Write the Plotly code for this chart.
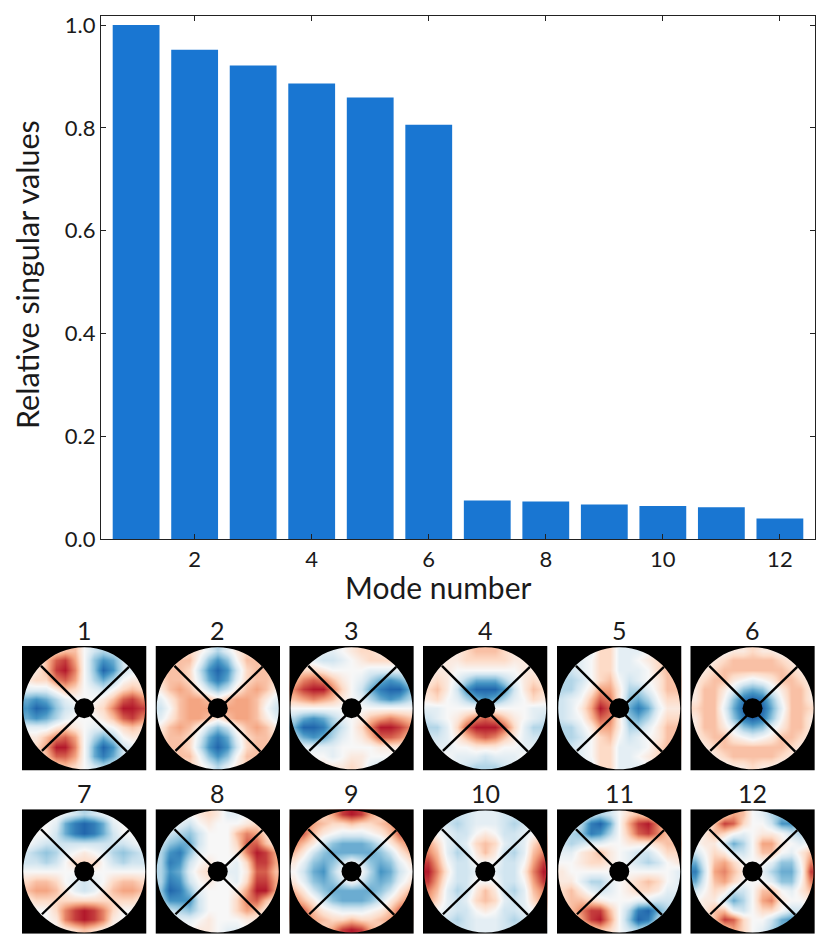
import plotly.graph_objects as go

W, H = 830, 946
FONT = "Lato"

mode_numbers = list(range(1, 13))
singular_values = [1.0, 0.952, 0.921, 0.886, 0.859, 0.806, 0.075, 0.073, 0.067, 0.064, 0.062, 0.04]
x_ticks = [2, 4, 6, 8, 10, 12]
y_ticks = [0.0, 0.2, 0.4, 0.6, 0.8, 1.0]
y_tick_labels = ["0.0", "0.2", "0.4", "0.6", "0.8", "1.0"]

mode_1 = [[0, 0, 1, 2, 3, 3, 0, -2, -3, -2, -1, 0, 0],
          [0, 0, 3, 6, 7, 4, 0, -4, -6, -5, -2, 0, 0],
          [0, 1, 3, 7, 8, 5, 0, -4, -8, -6, -2, -1, 0],
          [1, 2, 2, 5, 6, 4, 0, -3, -5, -3, 0, 1, 1],
          [-1, -1, -1, 1, 3, 2, 0, -1, -2, 0, 2, 3, 2],
          [-5, -6, -5, -3, -1, 0, 0, 0, 1, 3, 6, 7, 5],
          [-6, -8, -7, -4, -2, -1, 0, 1, 2, 5, 8, 8, 7],
          [-5, -6, -5, -3, -1, 0, 0, 0, 1, 3, 6, 7, 5],
          [-1, -1, -1, 1, 2, 1, 0, -1, -1, 0, 2, 3, 2],
          [1, 1, 3, 5, 6, 4, 0, -3, -5, -3, 0, 1, 1],
          [0, 2, 4, 8, 8, 5, 0, -5, -8, -6, -2, -1, 0],
          [0, 0, 3, 6, 6, 4, 0, -5, -7, -5, -2, 0, 0],
          [0, 0, 1, 2, 3, 2, 0, -2, -3, -2, -1, 0, 0]]
mode_2 = [[0, 0, 0, 2, 1, -1, -3, -1, 1, 2, 0, 0, 0],
          [0, 1, 3, 3, 0, -4, -6, -4, 0, 3, 3, 1, 0],
          [2, 3, 3, 2, -2, -6, -8, -6, -2, 2, 3, 3, 2],
          [2, 3, 3, 2, -1, -5, -7, -5, -1, 2, 3, 3, 2],
          [1, 3, 4, 3, 1, -2, -4, -2, 1, 3, 4, 3, 1],
          [-1, 1, 3, 4, 4, 3, 1, 3, 4, 4, 3, 1, -1],
          [-2, 0, 3, 4, 4, 4, 3, 4, 4, 4, 3, 0, -2],
          [-1, 1, 3, 4, 4, 3, 1, 3, 4, 4, 3, 1, -1],
          [1, 3, 4, 3, 1, -2, -4, -2, 1, 3, 4, 3, 1],
          [2, 3, 3, 2, -1, -5, -7, -5, -1, 2, 3, 3, 2],
          [2, 3, 3, 2, -2, -6, -8, -6, -2, 2, 3, 3, 2],
          [0, 1, 3, 3, 0, -4, -6, -4, 0, 3, 3, 1, 0],
          [0, 0, 0, 2, 1, -1, -3, -1, 1, 2, 0, 0, 0]]
mode_3 = [[0, 0, 0, -1, -1, 0, 1, 2, 2, 1, 0, 0, 0],
          [0, 0, -1, -2, -2, -1, 0, 1, 2, 2, 2, 1, 0],
          [2, 2, 2, 1, 0, 0, 0, 0, -1, -1, -1, -1, 0],
          [3, 5, 6, 5, 3, 1, 0, -1, -3, -5, -6, -5, -3],
          [5, 7, 8, 8, 5, 2, 0, -2, -5, -7, -8, -8, -5],
          [3, 4, 5, 4, 3, 1, 0, -1, -3, -5, -6, -5, -3],
          [0, 0, 0, 0, 0, 0, 0, 0, 0, 0, 0, 0, 0],
          [-3, -5, -6, -5, -3, -1, 0, 1, 3, 4, 5, 4, 3],
          [-5, -8, -8, -7, -4, -2, 0, 2, 5, 8, 8, 7, 5],
          [-3, -5, -6, -5, -3, -1, 0, 1, 3, 6, 6, 5, 3],
          [0, -1, -1, -1, -1, 0, 0, 0, 0, 1, 1, 1, 0],
          [0, 0, 0, 0, -1, 0, 1, 1, 0, 0, 0, 0, 0],
          [0, 0, 0, 1, 1, 1, 2, 1, -1, -2, -1, 0, 0]]
mode_4 = [[0, 0, 0, 1, 2, 3, 3, 3, 2, 1, 0, 0, 0],
          [0, 0, 1, 1, 2, 2, 2, 2, 2, 1, 1, 0, 0],
          [0, 1, 1, 0, 0, 0, 0, 0, 0, 0, 1, 1, 0],
          [1, 2, 1, -1, -3, -5, -5, -5, -3, -1, 1, 2, 1],
          [2, 3, 1, -2, -6, -8, -8, -8, -6, -2, 1, 3, 2],
          [1, 2, 0, -1, -3, -5, -6, -5, -3, -1, 0, 2, 1],
          [-1, -1, 0, 0, 0, 0, 0, 0, 0, 0, 0, -1, -1],
          [-2, -1, 0, 1, 3, 5, 6, 5, 3, 1, 0, -1, -2],
          [-3, -3, -1, 2, 6, 8, 8, 8, 6, 2, -1, -3, -3],
          [-2, -2, -1, 1, 3, 5, 6, 5, 3, 1, -1, -2, -2],
          [-1, -1, -1, 0, 0, 1, 1, 1, 0, 0, -1, -1, -1],
          [0, 0, 0, -1, -1, -1, -2, -1, -1, -1, 0, 0, 0],
          [0, 0, 0, -1, -2, -3, -3, -3, -2, -1, 0, 0, 0]]
mode_5 = [[0, 0, 0, -1, 2, 2, -1, -1, -1, 0, 1, 0, 0],
          [-1, -1, -1, 0, 2, 2, -1, -1, 0, 1, 2, 2, 1],
          [-2, -2, -1, 0, 2, 2, -1, -1, -1, 0, 2, 3, 2],
          [-3, -3, -2, 0, 2, 3, 0, -2, -1, 0, 1, 3, 3],
          [-3, -3, -1, 1, 4, 4, 1, -3, -3, -1, 1, 3, 3],
          [-2, -1, 0, 3, 6, 5, 1, -4, -5, -3, 0, 2, 2],
          [-2, -1, 1, 4, 8, 6, 1, -5, -7, -5, -1, 1, 1],
          [-2, -1, 0, 3, 6, 5, 1, -4, -5, -3, 0, 2, 2],
          [-3, -3, -1, 1, 4, 4, 1, -3, -3, -1, 1, 3, 3],
          [-3, -3, -2, 0, 2, 3, 0, -2, -1, 0, 1, 3, 3],
          [-2, -2, -1, 0, 2, 2, -1, -1, -1, 0, 2, 3, 2],
          [-1, -1, -1, 0, 2, 2, -1, -1, 0, 1, 2, 2, 1],
          [0, 0, 0, -1, 2, 2, -1, -1, -1, 0, 1, 0, 0]]
mode_6 = [[0, 0, 0, 0, 1, 1, 2, 1, 1, 0, 0, 0, 0],
          [0, 0, 1, 2, 3, 3, 3, 3, 3, 2, 1, 0, 0],
          [0, 1, 2, 3, 3, 3, 3, 3, 3, 3, 2, 1, 0],
          [1, 2, 3, 3, 1, 0, -1, 0, 1, 3, 3, 2, 1],
          [1, 3, 3, 1, -1, -4, -5, -4, -1, 1, 3, 3, 1],
          [1, 3, 3, 0, -4, -7, -8, -7, -4, 0, 3, 3, 1],
          [2, 3, 3, -1, -5, -8, -8, -8, -5, -1, 3, 3, 2],
          [1, 3, 3, 0, -4, -7, -8, -7, -4, 0, 3, 3, 1],
          [1, 3, 3, 1, -1, -4, -5, -4, -1, 1, 3, 3, 1],
          [1, 2, 3, 3, 1, 0, -1, 0, 1, 3, 3, 2, 1],
          [0, 1, 2, 3, 3, 3, 3, 3, 3, 3, 2, 1, 0],
          [0, 0, 1, 2, 3, 3, 3, 3, 3, 2, 1, 0, 0],
          [0, 0, 0, 0, 1, 1, 2, 1, 1, 0, 0, 0, 0]]
mode_7 = [[0, 0, 0, 0, -1, -2, -3, -2, -1, 0, 0, 0, 0],
          [0, 0, 0, -1, -5, -7, -8, -7, -5, -1, 0, 0, 0],
          [0, 0, 0, -2, -5, -7, -8, -7, -5, -2, 0, 0, 0],
          [0, -1, -2, -2, -2, -2, -2, -2, -2, -2, -2, -1, 0],
          [-2, -3, -4, -3, -1, 0, 1, 0, -1, -3, -4, -3, -2],
          [-2, -2, -3, -2, 0, 2, 2, 2, 0, -2, -3, -2, -2],
          [0, 0, 0, 0, 0, 0, 0, 0, 0, 0, 0, 0, 0],
          [2, 3, 3, 2, 0, -1, -2, -1, 0, 2, 3, 3, 2],
          [3, 4, 4, 3, 1, -1, -2, -1, 1, 3, 4, 4, 3],
          [1, 2, 2, 2, 2, 2, 2, 2, 2, 2, 2, 2, 1],
          [0, 0, 0, 2, 5, 7, 8, 7, 5, 2, 0, 0, 0],
          [0, 0, 0, 1, 5, 7, 8, 7, 5, 1, 0, 0, 0],
          [0, 0, 0, 0, 1, 2, 3, 2, 1, 0, 0, 0, 0]]
mode_8 = [[0, 0, 0, 0, 1, 2, 1, -1, -1, 0, 0, 0, 0],
          [0, 0, -1, -2, 0, 1, 0, 0, 0, 1, 2, 0, 0],
          [0, -2, -3, -4, -2, 0, 0, 0, 3, 5, 4, 2, 0],
          [-2, -4, -5, -5, -2, 0, 0, 0, 2, 6, 6, 3, 1],
          [-3, -6, -7, -4, -1, 0, 0, 0, 1, 5, 8, 7, 4],
          [-3, -7, -6, -2, 0, 1, 0, 0, -1, 2, 7, 7, 4],
          [-3, -6, -5, -1, 1, 2, 0, -1, -1, 1, 6, 6, 3],
          [-3, -7, -6, -2, 0, 1, 0, 0, -1, 2, 7, 7, 4],
          [-4, -8, -7, -4, -1, 0, 0, 0, 1, 4, 8, 8, 4],
          [-3, -6, -6, -6, -2, 0, 0, 0, 2, 5, 6, 3, 1],
          [0, -2, -3, -4, -2, 0, 0, 0, 2, 4, 3, 1, 0],
          [0, 0, -1, -1, 0, 1, 0, 0, 0, 1, 1, 0, 0],
          [0, 0, 0, 0, 1, 1, 0, -1, -1, 0, 0, 0, 0]]
mode_9 = [[1, 2, 2, 2, 4, 7, 8, 7, 4, 2, 2, 2, 1],
          [4, 5, 4, 3, 2, 2, 3, 2, 2, 3, 4, 5, 4],
          [6, 6, 3, 1, 0, -1, -1, -1, 0, 1, 3, 6, 6],
          [5, 3, 1, -2, -4, -5, -5, -5, -4, -2, 1, 3, 5],
          [3, 1, -2, -4, -5, -5, -5, -5, -5, -4, -2, 1, 3],
          [1, -1, -4, -5, -4, -2, 0, -2, -4, -5, -4, -1, 1],
          [0, -2, -5, -6, -3, 0, 1, 0, -3, -6, -5, -2, 0],
          [1, -1, -4, -5, -4, -2, 0, -2, -4, -5, -4, -1, 1],
          [3, 1, -2, -4, -5, -5, -5, -5, -5, -4, -2, 1, 3],
          [5, 3, 1, -2, -4, -5, -5, -5, -4, -2, 1, 3, 5],
          [6, 6, 3, 1, 0, -1, -1, -1, 0, 1, 3, 6, 6],
          [4, 5, 4, 3, 2, 2, 3, 2, 2, 3, 4, 5, 4],
          [1, 2, 2, 2, 4, 7, 8, 7, 4, 2, 2, 2, 1]]
mode_10 = [[-1, -1, -2, -2, -2, -1, -1, -1, -2, -2, -2, -1, -1],
           [0, -1, -2, -3, -2, -1, -1, -1, -2, -3, -2, -1, 0],
           [2, 0, -1, -2, -2, 0, 1, 0, -2, -2, -1, 0, 2],
           [4, 2, -1, -2, -1, 2, 3, 2, -1, -2, -1, 2, 4],
           [5, 3, -1, -3, -2, 1, 3, 1, -2, -3, -1, 3, 5],
           [7, 4, 0, -2, -2, 0, 0, 0, -2, -2, 0, 4, 7],
           [8, 5, 1, -2, -2, -1, 0, -1, -2, -2, 1, 5, 8],
           [7, 4, 0, -2, -2, 0, 0, 0, -2, -2, 0, 4, 7],
           [5, 3, -1, -3, -2, 1, 3, 1, -2, -3, -1, 3, 5],
           [4, 2, -1, -2, -1, 2, 3, 2, -1, -2, -1, 2, 4],
           [2, 0, -1, -2, -2, 0, 1, 0, -2, -2, -1, 0, 2],
           [0, -1, -2, -3, -2, -1, -1, -1, -2, -3, -2, -1, 0],
           [-1, -1, -2, -2, -2, -1, -1, -1, -2, -2, -2, -1, -1]]
mode_11 = [[0, 0, 0, -2, -3, -2, 0, 2, 3, 2, 0, 0, 0],
           [0, 0, -3, -7, -8, -5, 0, 4, 7, 8, 5, 1, 0],
           [-2, -3, -4, -7, -6, -3, 0, 3, 6, 7, 5, 3, 1],
           [-2, -3, -2, -1, -1, 0, 0, 1, 1, 1, 2, 3, 3],
           [-1, -1, 1, 2, 3, 1, 0, -1, -2, -2, 0, 2, 2],
           [0, 0, 1, 2, 2, 1, 0, -1, -2, -3, -2, 0, 1],
           [1, 0, 0, 0, 0, 0, 0, 0, 0, 0, 0, 0, -1],
           [1, 1, -1, -3, -3, -1, 0, 1, 2, 3, 2, 0, -1],
           [2, 3, 1, -1, -2, -1, 0, 1, 2, 2, 1, -1, -1],
           [2, 3, 3, 2, 1, 0, 0, 0, -1, -1, -2, -2, -2],
           [1, 3, 5, 7, 7, 3, 0, -3, -7, -8, -5, -3, -1],
           [0, 1, 4, 7, 8, 4, 0, -4, -8, -7, -3, 0, 0],
           [0, 0, 0, 2, 3, 2, 0, -2, -3, -2, 0, 0, 0]]
mode_12 = [[0, 0, 0, 2, 4, 3, 0, -1, -3, -4, -2, 0, 0],
           [0, 0, 3, 7, 6, 2, 0, 0, -2, -6, -6, -2, 0],
           [0, 1, 3, 2, 0, -1, 0, 1, 1, 0, -2, -3, -1],
           [0, 1, 1, -2, -5, -3, 0, 4, 4, 1, 0, -1, 0],
           [-2, 0, 2, 1, -2, -2, 0, 3, 3, 0, -1, 1, 3],
           [-5, -1, 3, 4, 2, 0, 0, 0, -1, -4, -4, 0, 5],
           [-7, -2, 4, 5, 3, 1, 0, -1, -3, -5, -5, -1, 7],
           [-5, -1, 3, 4, 2, 0, 0, 0, -1, -4, -4, 0, 5],
           [-2, 0, 2, 1, -2, -2, 0, 3, 3, 0, -1, 1, 3],
           [0, 1, 1, -2, -5, -3, 0, 4, 5, 1, 0, 0, 1],
           [0, 1, 3, 3, -1, -2, 0, 2, 2, 0, -2, -2, 0],
           [0, 0, 3, 7, 6, 2, 0, 0, -2, -5, -6, -2, 0],
           [0, 0, 0, 2, 4, 2, 0, -1, -3, -5, -3, 0, 0]]
modes = [mode_1, mode_2, mode_3, mode_4, mode_5, mode_6,
         mode_7, mode_8, mode_9, mode_10, mode_11, mode_12]

# pixel layout of the thumbnails
panel_left = [22, 155.5, 289.3, 423, 557, 690.3]
panel_top = [646, 809.3]
panel_size = 124.5

CELL = panel_size / 13
R_PUPIL = 61 / CELL
R_HOLE = 10 / CELL
C = 6
K = 0.5523 * R_PUPIL
# spider arm end points, pixels from the panel centre
arms = [(-43.3, -42.3, 42.7, 43.3), (44.7, -41.3, -42.3, 42.7)]


def mask_path():
    # black square with the circular pupil cut out
    r = R_PUPIL
    return (f"M-0.5,-0.5 L12.5,-0.5 L12.5,12.5 L-0.5,12.5 Z "
            f"M{C - r},{C} C{C - r},{C - K} {C - K},{C - r} {C},{C - r} "
            f"C{C + K},{C - r} {C + r},{C - K} {C + r},{C} "
            f"C{C + r},{C + K} {C + K},{C + r} {C},{C + r} "
            f"C{C - K},{C + r} {C - r},{C + K} {C - r},{C} Z")


fig = go.Figure()

# main bar chart
fig.add_trace(go.Bar(x=mode_numbers, y=singular_values, width=0.8,
                     marker=dict(color="#1976d2", line=dict(width=0)),
                     xaxis="x", yaxis="y", showlegend=False))

layout = dict(
    width=W, height=H,
    margin=dict(l=0, r=0, t=0, b=0, autoexpand=False),
    paper_bgcolor="white", plot_bgcolor="white",
    font=dict(family=FONT, color="#1a1a1a"),
    xaxis=dict(domain=[101 / W, 815 / W], range=[0.4, 12.6], tickvals=x_ticks,
               ticks="inside", ticklen=5, tickwidth=1, tickcolor="#222",
               showline=True, mirror="ticks", linecolor="#222", linewidth=1.3,
               showgrid=False, zeroline=False, tickfont=dict(size=22)),
    yaxis=dict(domain=[(H - 539) / H, (H - 16) / H], range=[0, 1.0175], tickvals=y_ticks,
               ticktext=y_tick_labels, ticks="inside", ticklen=5, tickwidth=1, tickcolor="#222",
               showline=True, mirror="ticks", linecolor="#222", linewidth=1.3,
               showgrid=False, zeroline=False, tickfont=dict(size=22)),
)

shapes = []
annotations = [
    dict(text="Mode number", x=438 / W, y=1 - 587 / H, xref="paper", yref="paper",
         xanchor="center", yanchor="middle", showarrow=False, font=dict(size=30)),
    dict(text="Relative singular values", x=27 / W, y=1 - 275 / H, xref="paper", yref="paper",
         xanchor="center", yanchor="middle", showarrow=False, textangle=-90, font=dict(size=30.5)),
]

grid = list(range(13))
for n, z in enumerate(modes):
    row, col = n // 6, n % 6
    ax = n + 2
    left = panel_left[col]
    top = panel_top[row]
    fig.add_trace(go.Heatmap(z=z, x=grid, y=grid, colorscale="RdBu_r", zmin=-10, zmax=10,
                             zsmooth="best", showscale=False,
                             xaxis=f"x{ax}", yaxis=f"y{ax}"))
    layout[f"xaxis{ax}"] = dict(domain=[left / W, (left + panel_size) / W], range=[-0.5, 12.5],
                                visible=False, anchor=f"y{ax}")
    layout[f"yaxis{ax}"] = dict(domain=[1 - (top + panel_size) / H, 1 - top / H], range=[12.5, -0.5],
                                visible=False, anchor=f"x{ax}")
    xr, yr = f"x{ax}", f"y{ax}"
    shapes.append(dict(type="path", path=mask_path(), xref=xr, yref=yr, fillcolor="black",
                       fillrule="evenodd", line=dict(width=0), layer="above"))
    # spider arms and central obstruction
    for x0, y0, x1, y1 in arms:
        shapes.append(dict(type="line", x0=C + x0 / CELL, y0=C + y0 / CELL, x1=C + x1 / CELL, y1=C + y1 / CELL,
                           xref=xr, yref=yr, line=dict(color="black", width=2.4), layer="above"))
    shapes.append(dict(type="circle", x0=C - R_HOLE, y0=C - R_HOLE, x1=C + R_HOLE, y1=C + R_HOLE,
                       xref=xr, yref=yr, fillcolor="black", line=dict(width=0), layer="above"))
    annotations.append(dict(text=str(n + 1), x=(left + panel_size / 2) / W, y=1 - top / H,
                            xref="paper", yref="paper", xanchor="center", yanchor="bottom", yshift=-1,
                            showarrow=False, font=dict(size=25)))

fig.update_layout(**layout, shapes=shapes, annotations=annotations)
fig.write_html("out.html", config=dict(displayModeBar=False),
               post_script="document.body.style.margin='0';")
